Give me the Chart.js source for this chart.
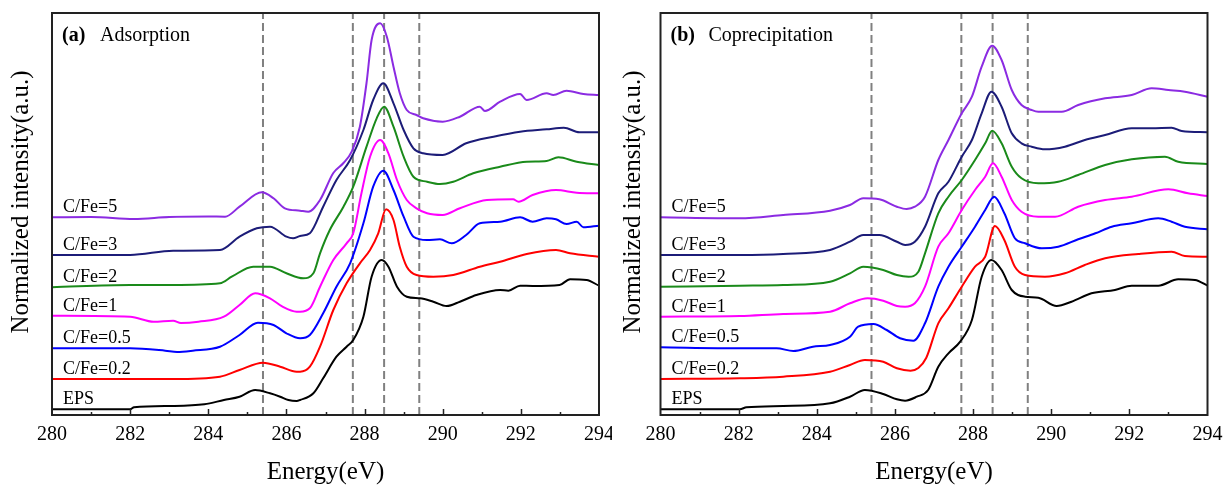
<!DOCTYPE html>
<html>
<head>
<meta charset="utf-8">
<title>C K-edge NEXAFS</title>
<script src="https://cdn.jsdelivr.net/npm/chart.js@4.4.0/dist/chart.umd.min.js"></script>
<style>
    body { margin: 0; background: #fff; }
    .panel { position: absolute; top: 0; width: 612px; height: 487px; }
</style>
</head>
<body>
<div class="panel" style="left:0"><canvas id="chartA" width="612" height="487"></canvas></div>
<div class="panel" style="left:612px"><canvas id="chartB" width="612" height="487"></canvas></div>

<script>
// series names, bottom to top
const seriesLabels = ['EPS', 'C/Fe=0.2', 'C/Fe=0.5', 'C/Fe=1', 'C/Fe=2', 'C/Fe=3', 'C/Fe=5'];
// reference energies (eV) marked by dashed lines
const markerEnergies = [285.4, 287.7, 288.5, 289.4];
const energyTicks = [280, 282, 284, 286, 288, 290, 292, 294];

// (a) Adsorption -- [energy eV, intensity a.u. incl. stacking offset]
const adsEPS = [[280,5.7],[282,5.7],[282.1,7.7],[283.1,9],[283.9,10.7],[284.4,15],[284.8,18.3],[285.2,25],[285.58,21.7],[285.84,18.3],[286.05,15],[286.26,14],[286.35,15],[286.69,21.7],[286.94,36.7],[287.28,58.3],[287.54,68.3],[287.71,75],[287.97,98.3],[288.18,138.3],[288.44,155],[288.61,148.3],[288.83,128.3],[289.08,118.3],[289.42,116.7],[289.76,113.3],[290.1,109],[290.44,113.3],[290.86,120],[291.47,125],[291.68,124.3],[291.98,129.3],[292.3,129],[292.99,130],[293.26,135.7],[293.68,135],[294,129.3]];
const adsFe02 = [[280,36],[283.1,36],[284.3,38.3],[284.8,45],[285.4,52.3],[285.84,48.3],[286.26,43.3],[286.35,43.3],[286.6,48.3],[286.86,68.3],[287.2,105],[287.54,131.7],[287.88,151.7],[288.14,165],[288.35,181.7],[288.55,205.7],[288.74,195],[288.9,168.3],[289.08,148.3],[289.33,140],[289.76,138.3],[290.27,140],[290.95,148.3],[291.47,153.3],[292.15,161],[292.9,165],[293.26,161.7],[294,158.3]];
const adsFe05 = [[280,66.7],[282,66.7],[282.9,64.3],[283.2,63],[283.6,64.3],[284.3,68.3],[284.8,80],[285.27,92.3],[285.67,90],[286,81.7],[286.35,76.7],[286.6,80],[286.94,101.7],[287.28,128.3],[287.63,151.7],[287.97,191.7],[288.22,228.3],[288.48,244.3],[288.74,225],[289,198.3],[289.25,178.3],[289.6,175],[289.93,175.7],[290.23,171.7],[290.6,180],[290.95,191.7],[291.47,193.3],[291.98,197.7],[292.3,193.3],[292.66,196.7],[292.9,195.7],[293.17,191],[293.43,193.3],[293.6,187.7],[294,189.3]];
const adsFe1 = [[280,99.3],[282,98.3],[282.6,93.3],[283.1,94.3],[283.3,92],[283.75,93.3],[284.4,98.3],[284.8,110],[285.2,121.7],[285.58,116.7],[285.9,108.3],[286.26,103.3],[286.35,103.3],[286.6,106.7],[286.86,128.3],[287.2,155],[287.54,171.7],[287.71,181.7],[287.92,221.7],[288.14,258.3],[288.4,275],[288.61,261.7],[288.83,235],[289.08,215],[289.33,206.7],[289.6,201.7],[290,200],[290.44,206.7],[291.13,215],[291.8,215.7],[291.94,213.3],[292.3,220],[292.9,225],[293.43,222.3],[294,221.7]];
const adsFe2 = [[280,127.7],[282,130],[283.1,130],[284.3,131.7],[284.6,138.3],[285.15,148.3],[285.58,148.3],[286,141.7],[286.43,136.7],[286.69,141.7],[286.86,161.7],[287.11,185],[287.46,208.3],[287.71,228.3],[288.05,268.3],[288.31,296.7],[288.5,308.3],[288.74,288.3],[289,258.3],[289.25,238.3],[289.6,233.3],[289.93,231],[290.27,233.3],[290.78,241.7],[291.47,248.3],[292.15,253.3],[292.66,254],[292.96,257.7],[293.43,253.3],[294,250]];
const adsFe3 = [[280,160],[282,160],[283.1,164.3],[284.3,165],[284.8,178.3],[285.24,186.7],[285.58,188.3],[286,178.3],[286.17,176.7],[286.35,179],[286.6,181.7],[286.94,208.3],[287.28,235],[287.63,255],[287.97,285],[288.22,315],[288.48,331.7],[288.74,311.7],[289,285],[289.25,266.7],[289.5,261.7],[290,260],[290.6,271.7],[291.3,278.3],[291.98,283.3],[292.66,285.7],[293.1,287.3],[293.5,282.7],[294,282.7]];
const adsFe5 = [[280,197.7],[281,198],[282.1,196],[283,198],[284,198.5],[284.43,198.3],[284.8,208.3],[285.37,222.7],[285.67,216.7],[285.96,206.7],[286.35,204.3],[286.56,203.3],[286.86,215],[287.2,242],[287.46,252],[287.67,263.3],[287.88,288.3],[288.05,332],[288.18,375],[288.4,391.7],[288.57,378.3],[288.74,348.3],[288.9,322],[289.08,305],[289.33,300],[289.5,296.7],[290,293.3],[290.44,298.3],[290.95,308.3],[291.08,304],[291.47,313.3],[291.98,321],[292.15,315],[292.66,321.7],[292.83,320],[293.17,324.3],[293.6,321],[294,320]];

// (b) Coprecipitation
const copEPS = [[280,5.7],[282.03,5.7],[282.2,7.7],[283.14,9],[284.34,11.7],[284.85,18.3],[285.23,25],[285.7,21],[286.05,15.7],[286.26,14.3],[286.56,18.3],[286.85,25],[287.11,48.3],[287.37,61.7],[287.67,73.3],[287.97,95],[288.22,138.3],[288.47,155],[288.73,145],[288.99,125],[289.33,118.3],[289.67,117.3],[290.14,109],[290.52,113.3],[291.03,121.7],[291.63,125],[292.06,129.3],[292.74,129.3],[293.25,135.7],[293.68,135],[294,129.3]];
const copFe02 = [[280,36],[282.03,36.7],[283.14,38.3],[284.34,43.3],[284.85,50],[285.23,55],[285.7,53.3],[286.05,46.7],[286.4,44.3],[286.6,47],[286.8,57],[287.11,91.7],[287.37,106.7],[287.71,128.3],[288.05,148.3],[288.31,158.3],[288.56,189],[288.8,175],[289.07,148.3],[289.33,140],[289.84,138.3],[290.35,141.7],[290.86,150],[291.38,156.7],[292.23,161],[293.08,163.3],[293.42,159],[294,158.3]];
const copFe05 = [[280,67.7],[282.03,66.7],[282.97,66.7],[283.4,64],[283.9,68.3],[284.34,70],[284.85,78.3],[285.06,88.3],[285.45,91],[285.79,85],[286.13,76.7],[286.47,74.3],[286.77,91.7],[287.11,128.3],[287.37,148.3],[287.71,168.3],[288.05,188.3],[288.31,205],[288.54,218.3],[288.8,201.7],[289.07,176.7],[289.33,171.7],[289.76,166.7],[290.18,168.3],[290.69,175.7],[291.13,181.7],[291.55,188.3],[292.06,191.7],[292.74,196.7],[293.08,193.3],[293.42,188.3],[294,185.7]];
const copFe1 = [[280,98.3],[282.03,99],[283.14,101],[284.34,103.3],[284.85,111.7],[285.3,116.7],[285.7,114.3],[286.05,109],[286.26,108.3],[286.51,111.7],[286.77,128.3],[287.11,168.3],[287.37,181.7],[287.71,205],[288.05,225],[288.31,238.3],[288.51,251.7],[288.73,238.3],[288.99,215],[289.24,203.3],[289.67,198.3],[290.1,198.3],[290.69,208.3],[291.38,215],[292.06,218.3],[293,225.7],[293.5,221.7],[294,219]];
const copFe2 = [[280,128.3],[282.03,129.3],[283.14,130],[284.34,133.3],[284.85,141.7],[285.19,148.3],[285.7,145],[286.05,140],[286.35,138.3],[286.6,143.3],[286.77,161.7],[287.11,201.7],[287.37,218.3],[287.71,235],[288.05,255],[288.31,271.7],[288.49,284.3],[288.73,271.7],[288.99,248.3],[289.24,236.7],[289.67,231.7],[290.18,233.3],[290.69,240],[291.38,250],[292.06,255.7],[292.91,258.3],[293.25,253.3],[294,251]];
const copFe3 = [[280,160],[282.03,160],[283.14,161],[284.34,165],[284.85,173.3],[285.19,180],[285.6,180],[286.05,173.3],[286.26,170],[286.51,173.3],[286.77,188.3],[287.11,221.7],[287.37,233.3],[287.71,258.3],[287.97,275],[288.22,301.7],[288.47,323.3],[288.73,308.3],[288.99,281.7],[289.24,271.7],[289.5,268.3],[289.84,265.7],[290.35,268.3],[290.86,275],[291.38,280],[292.06,286.7],[292.57,286.7],[293.08,287.3],[293.34,284],[294,282.7]];
const copFe5 = [[280,197.7],[282.03,196.7],[283.14,200],[284.34,204.3],[284.85,210],[285.19,216.7],[285.6,215.7],[286.05,208.3],[286.3,206],[286.51,208.3],[286.77,218.3],[287.11,255],[287.37,275],[287.71,301.7],[287.97,318.3],[288.22,348.3],[288.49,369.3],[288.73,355],[288.99,325],[289.24,310],[289.5,305],[289.67,303.3],[290.27,303.3],[290.69,310],[291.38,316.7],[292.06,320],[292.57,326.7],[293,325],[293.42,323.3],[294,318.3]];

const adsorptionSeries = [adsEPS, adsFe02, adsFe05, adsFe1, adsFe2, adsFe3, adsFe5];
const coprecipSeries = [copEPS, copFe02, copFe05, copFe1, copFe2, copFe3, copFe5];

const lineColors = ['#000000', '#ff0000', '#0000ff', '#ff00ff', '#1a8a1a', '#1c1c78', '#8b2be2'];
const serif = 'Liberation Serif, Times New Roman, serif';
const Y_MAX = 402;

const decorPlugin = {
    id: 'decor',
    afterDatasetsDraw(chart, args, opts) {
        const ctx = chart.ctx;
        const area = chart.chartArea;
        const xs = chart.scales.x;
        const ys = chart.scales.y;
        ctx.save();

        // frame
        ctx.strokeStyle = '#222';
        ctx.lineWidth = 2;
        ctx.strokeRect(area.left, area.top, area.right - area.left, area.bottom - area.top);

        // inward ticks on bottom axis
        ctx.lineWidth = 1.5;
        for (let e = 281; e < 294; e++) {
            const px = Math.round(xs.getPixelForValue(e)) + 0.5;
            const len = e % 2 === 0 ? 6 : 3;
            ctx.beginPath();
            ctx.moveTo(px, area.bottom);
            ctx.lineTo(px, area.bottom - len);
            ctx.stroke();
        }

        // curve labels just above each baseline
        ctx.fillStyle = '#000';
        ctx.font = '18px ' + serif;
        ctx.textBaseline = 'alphabetic';
        ctx.textAlign = 'left';
        opts.series.forEach((s, i) => {
            const py = ys.getPixelForValue(s[0][1]) - 5;
            ctx.fillText(seriesLabels[i], area.left + 11, py);
        });

        // panel tag and title
        ctx.font = 'bold 20px ' + serif;
        ctx.fillText(opts.tag, area.left + 10, 41);
        ctx.font = '20px ' + serif;
        ctx.fillText(opts.title, area.left + 48, 41);

        // y axis title
        ctx.font = '25px ' + serif;
        ctx.textAlign = 'center';
        ctx.textBaseline = 'middle';
        ctx.translate(21, 202);
        ctx.rotate(-Math.PI / 2);
        ctx.fillText('Normalized intensity(a.u.)', 0, 0);
        ctx.restore();
    }
};

function makeChart(canvasId, series, tag, title, leftWidth, rightPad) {
    const datasets = series.map((s, i) => ({
        label: seriesLabels[i],
        data: s.map(p => ({ x: p[0], y: p[1] })),
        borderColor: lineColors[i],
        borderWidth: 2,
        pointRadius: 0,
        cubicInterpolationMode: 'monotone',
        fill: false
    }));
    markerEnergies.forEach(e => {
        datasets.push({
            label: 'marker ' + e,
            data: [{ x: e, y: 0 }, { x: e, y: Y_MAX }],
            borderColor: '#808080',
            borderWidth: 2,
            borderDash: [8, 4],
            pointRadius: 0,
            fill: false
        });
    });

    return new Chart(document.getElementById(canvasId), {
        type: 'line',
        data: { datasets: datasets },
        options: {
            responsive: false,
            animation: false,
            layout: { padding: { top: 13, right: rightPad, left: 0, bottom: 0 } },
            plugins: {
                legend: { display: false },
                tooltip: { enabled: false },
                decor: { series: series, tag: tag, title: title }
            },
            scales: {
                x: {
                    type: 'linear',
                    min: 280,
                    max: 294,
                    afterBuildTicks: s => { s.ticks = energyTicks.map(v => ({ value: v })); },
                    ticks: { color: '#000', font: { family: serif, size: 20 }, padding: 8 },
                    grid: { display: false, drawTicks: false },
                    border: { display: false },
                    title: {
                        display: true,
                        text: 'Energy(eV)',
                        color: '#000',
                        font: { family: serif, size: 25 },
                        padding: { top: 1, bottom: 0 }
                    },
                    afterFit: s => {
                        s.height = 72;
                        s.paddingLeft = 0;
                        s.paddingRight = 0;
                    }
                },
                y: {
                    type: 'linear',
                    min: 0,
                    max: Y_MAX,
                    ticks: { display: false },
                    grid: { display: false, drawTicks: false },
                    border: { display: false },
                    afterFit: s => {
                        s.width = leftWidth;
                        s.paddingTop = 0;
                        s.paddingBottom = 0;
                    }
                }
            }
        },
        plugins: [decorPlugin]
    });
}

makeChart('chartA', adsorptionSeries, '(a)', 'Adsorption', 52, 13);
makeChart('chartB', coprecipSeries, '(b)', 'Coprecipitation', 48.5, 16.5);
</script>
</body>
</html>
